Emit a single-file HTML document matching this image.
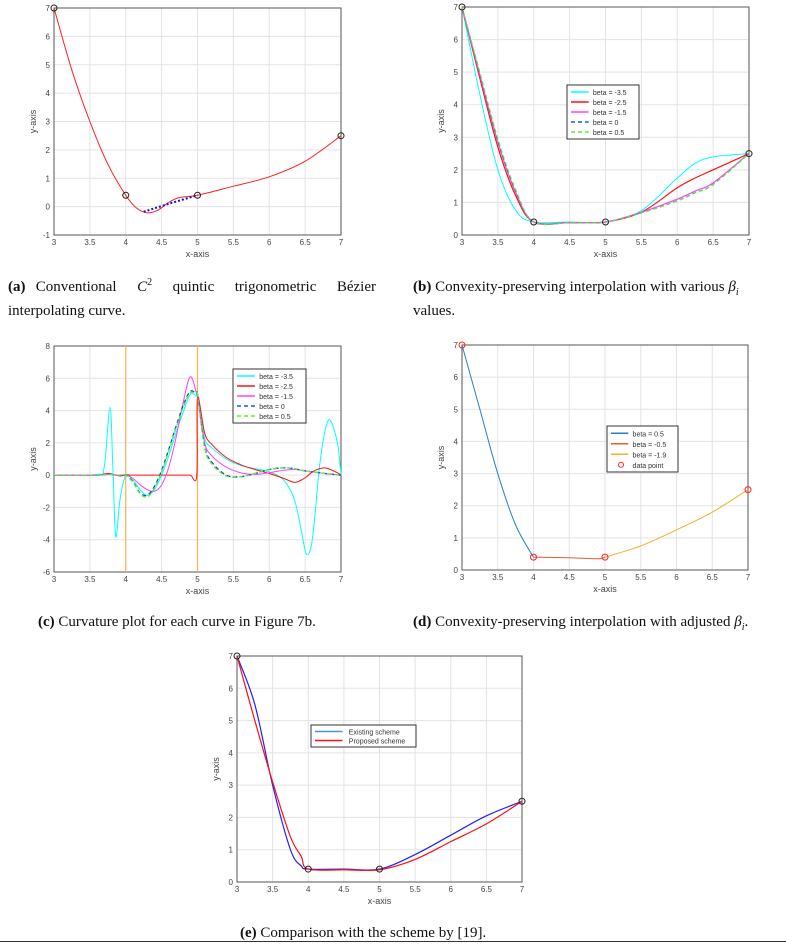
<!DOCTYPE html>
<html><head><meta charset="utf-8"><style>
body{margin:0;background:#fff;width:786px;height:945px;position:relative;overflow:hidden}
svg{position:absolute;left:0;top:0}
.cap{position:absolute;font-family:"Liberation Serif",serif;font-size:15px;color:#111;line-height:24px}
sub,sup{line-height:0}
</style></head><body>
<svg id="s" width="786" height="945"></svg>
<div class="cap" style="left:8px;top:275px;width:368px;text-align:justify;text-align-last:left"><b>(a)</b> Conventional &nbsp;<i>C</i><sup style="font-size:10px">2</sup> &nbsp;quintic &nbsp;trigonometric &nbsp;Bézier interpolating curve.</div>
<div class="cap" style="left:413px;top:275px;width:365px"><b>(b)</b> Convexity-preserving interpolation with various <i>β<sub style="font-size:10px">i</sub></i> values.</div>
<div class="cap" style="left:38px;top:610px"><b>(c)</b> Curvature plot for each curve in Figure 7b.</div>
<div class="cap" style="left:413px;top:610px"><b>(d)</b> Convexity-preserving interpolation with adjusted <i>β<sub style="font-size:10px">i</sub></i>.</div>
<div class="cap" style="left:240px;top:921px"><b>(e)</b> Comparison with the scheme by [19].</div>
<div style="position:absolute;left:0;top:941px;width:786px;height:1px;background:#333"></div>
<script>
// ---- data ----
const aX=[3,3.25,3.5,3.75,4,4.15,4.3,4.45,4.6,4.75,5,5.5,6,6.5,7];
const aY=[7,4.8,3.0,1.5,0.4,-0.05,-0.22,-0.12,0.15,0.32,0.4,0.72,1.05,1.6,2.5];
const aDotX=[4.25,4.6,5];
const aDotY=[-0.18,0.1,0.4];
const dataX=[3,4,5,7];
const dataY=[7,0.4,0.4,2.5];
const bX=[3,3.25,3.5,3.75,4,4.5,5,5.5,6,6.25,6.5,7];
const bCyan=[7,4.3,2.0,0.75,0.4,0.4,0.4,0.75,1.75,2.2,2.4,2.5];
const bRed=[7,4.8,2.7,1.2,0.4,0.38,0.4,0.7,1.45,1.75,2.0,2.5];
const bMag=[7,4.9,2.85,1.3,0.4,0.38,0.4,0.7,1.1,1.35,1.6,2.5];
const bBlue=[7,4.95,2.9,1.35,0.4,0.38,0.4,0.68,1.05,1.3,1.55,2.5];
const bGreen=[7,4.98,2.95,1.38,0.4,0.38,0.4,0.68,1.05,1.3,1.55,2.5];
const cX=[3,3.6,3.7,3.78,3.82,3.86,3.92,4,4.1,4.2,4.3,4.4,4.5,4.6,4.7,4.8,4.9,4.99,5,5.1,5.2,5.4,5.6,5.8,6,6.2,6.35,6.45,6.52,6.6,6.7,6.78,6.85,6.95,7];
const cCyan=[0,0.05,0.5,4.2,0.5,-3.8,-1.5,0,-0.3,-0.9,-1.25,-0.9,0,1.2,2.6,3.9,5.0,4.9,4.9,2.3,1.7,1.0,0.6,0.4,0.2,-0.3,-1.5,-3.5,-4.9,-4.0,0.5,2.8,3.4,2.0,0];
const cRed=[0,0,0.08,0.1,0.05,0,-0.05,0,0,0,0,0,0,0,0,0,0,0,4.8,2.6,1.9,1.1,0.65,0.35,0.1,-0.2,-0.45,-0.3,-0.1,0.2,0.4,0.45,0.35,0.15,0];
const cMag=[0,0,0.03,0.05,0.03,0,0,0,-0.2,-0.6,-0.9,-1.0,-0.6,0.5,2.3,4.5,6.1,5.0,4.9,2.0,1.2,0.5,0.15,0.05,0.15,0.3,0.35,0.3,0.25,0.2,0.15,0.1,0.05,0.02,0];
const cBlue=[0,0,0.03,0.05,0.03,0,0,0,-0.4,-1.1,-1.25,-0.7,0.3,1.6,3.0,4.3,5.2,5.0,5.0,1.8,0.8,0,-0.1,0.1,0.35,0.45,0.4,0.3,0.25,0.2,0.15,0.1,0.07,0.02,0];
const cGreen=[0,0,0.03,0.05,0.03,0,0,0,-0.45,-1.15,-1.35,-0.8,0.2,1.5,2.9,4.2,5.1,5.0,5.0,1.7,0.7,-0.05,-0.1,0.1,0.35,0.45,0.4,0.3,0.25,0.2,0.15,0.1,0.07,0.02,0];
const dBlueX=[3,3.25,3.5,3.75,4], dBlueY=[7,5.0,3.0,1.4,0.4];
const dOrX=[4,4.5,4.9,5], dOrY=[0.4,0.38,0.35,0.4];
const dYelX=[5,5.5,6,6.5,7], dYelY=[0.4,0.75,1.25,1.8,2.5];
const eX=[3,3.25,3.5,3.75,3.9,4,4.5,5,5.5,6,6.5,7];
const eExist=[7,5.5,3.0,1.0,0.5,0.4,0.4,0.4,0.85,1.45,2.05,2.5];
const eProp=[7,5.0,3.1,1.4,0.8,0.4,0.38,0.38,0.7,1.25,1.8,2.5];
const xTicks=[3,3.5,4,4.5,5,5.5,6,6.5,7];
const xTickLabels=["3","3.5","4","4.5","5","5.5","6","6.5","7"];
const yTicksA=[-1,0,1,2,3,4,5,6,7];
const yTicks07=[0,1,2,3,4,5,6,7];
const yTicksC=[-6,-4,-2,0,2,4,6,8];

const NS="http://www.w3.org/2000/svg", S=document.getElementById('s');
function el(t,a,p){const e=document.createElementNS(NS,t);for(const k in a)e.setAttribute(k,a[k]);(p||S).appendChild(e);return e;}
function axes(name,L,T,R,B,x0,x1,y0,y1,yt){
  const g=el('g',{});
  
  
  const sx=v=>L+(v-x0)/(x1-x0)*(R-L), sy=v=>B-(v-y0)/(y1-y0)*(B-T);
  xTicks.forEach((v,i)=>{el('line',{x1:sx(v),x2:sx(v),y1:T,y2:B,stroke:'#e3e3e3','stroke-width':1},g);
    const t=el('text',{x:sx(v),y:B+10,'text-anchor':'middle','font-size':8,fill:'#444','font-family':'Liberation Sans, sans-serif'},g);t.textContent=xTickLabels[i];
    });
  yt.forEach(v=>{el('line',{x1:L,x2:R,y1:sy(v),y2:sy(v),stroke:'#e3e3e3','stroke-width':1},g);
    const t=el('text',{x:L-4,y:sy(v)+3,'text-anchor':'end','font-size':8,fill:'#444','font-family':'Liberation Sans, sans-serif'},g);t.textContent=String(v);
    });
  el('rect',{x:L,y:T,width:R-L,height:B-T,fill:'none',stroke:'#555','stroke-width':1},g);
  const xl=el('text',{x:(L+R)/2,y:B+22,'text-anchor':'middle','font-size':9,fill:'#444','font-family':'Liberation Sans, sans-serif'},g);xl.textContent='x-axis';
  
  const yl=el('text',{x:0,y:0,transform:`translate(${L-18},${(T+B)/2}) rotate(-90)`,'text-anchor':'middle','font-size':9,fill:'#444','font-family':'Liberation Sans, sans-serif'},g);yl.textContent='y-axis';
  
  return {sx,sy,g};
}
function curve(ax,xs,ys,col,w,dash,name){
  const P=xs.map((x,i)=>[ax.sx(x),ax.sy(ys[i])]);
  let d='M'+P[0][0]+','+P[0][1];
  for(let i=0;i<P.length-1;i++){
    const p0=P[Math.max(0,i-1)],p1=P[i],p2=P[i+1],p3=P[Math.min(P.length-1,i+2)];
    const c1=[p1[0]+(p2[0]-p0[0])/6,p1[1]+(p2[1]-p0[1])/6],c2=[p2[0]-(p3[0]-p1[0])/6,p2[1]-(p3[1]-p1[1])/6];
    d+=`C${c1[0]},${c1[1]} ${c2[0]},${c2[1]} ${p2[0]},${p2[1]}`;
  }
  const p=el('path',{d,fill:'none',stroke:col,'stroke-width':w},ax.g);
  if(dash)p.setAttribute('stroke-dasharray',dash);
  
  
}
function pts(ax,col,name){dataX.forEach((x,i)=>{const c=el('circle',{cx:ax.sx(x),cy:ax.sy(dataY[i]),r:3,fill:'none',stroke:col,'stroke-width':1},ax.g);
  });}
function legend(name,x,y,w,items,fs,rowh){
  const g=el('g',{});
  
  
  el('rect',{x,y,width:w,height:items.length*rowh+4,fill:'#fff',stroke:'#333','stroke-width':1},g);
  items.forEach((it,i)=>{const yy=y+2+rowh*i+rowh/2;
    if(it[2]==='o'){el('circle',{cx:x+14,cy:yy,r:2.5,fill:'none',stroke:it[1]},g);}
    else{const l=el('line',{x1:x+4,x2:x+w*0.3,y1:yy,y2:yy,stroke:it[1],'stroke-width':1.5},g);if(it[2])l.setAttribute('stroke-dasharray',it[2]);}
    const t=el('text',{x:x+w*0.36,y:yy+3,'font-size':fs,fill:'#333','font-family':'Liberation Sans, sans-serif'},g);t.textContent=it[0];
    });
}
// (a)
const A=axes('chart-a',54,8,341,235,3,7,-1,7,yTicksA);
curve(A,aX,aY,'#ff2020',1,null,'curve-a');
curve(A,aDotX,aDotY,'#1010e0',2,'2,2','dotted-segment-a');
pts(A,'#222','data-point-a');
// (b)
const B=axes('chart-b',462,7,749,235,3,7,0,7,yTicks07);
curve(B,bX,bCyan,'#00ffff',1,null,'curve-beta-m3.5');
curve(B,bX,bRed,'#ff1010',1.2,null,'curve-beta-m2.5');
curve(B,bX,bMag,'#ff40ff',1.2,null,'curve-beta-m1.5');
curve(B,bX,bBlue,'#1060c0',1.2,'4,3','curve-beta-0');
curve(B,bX,bGreen,'#55ee33',1.2,'4,3','curve-beta-0.5');
pts(B,'#222','data-point-b');
const leg5=[['beta = -3.5','#00ffff'],['beta = -2.5','#ff1010'],['beta = -1.5','#ff40ff'],['beta = 0','#1060c0','4,3'],['beta = 0.5','#55ee33','4,3']];
legend('legend-b',567,85,72,leg5,7,10);
// (c)
const C=axes('chart-c',54,346,341,572,3,7,-6,8,yTicksC);
[4,5].forEach(v=>{const l=el('line',{x1:C.sx(v),x2:C.sx(v),y1:346,y2:572,stroke:'#ffb050','stroke-width':1.2},C.g);
  });
curve(C,cX,cCyan,'#00ffff',1,null,'curvature-beta-m3.5');
curve(C,cX,cRed,'#ff1010',1,null,'curvature-beta-m2.5');
curve(C,cX,cMag,'#ff40ff',1,null,'curvature-beta-m1.5');
curve(C,cX,cBlue,'#1040c0',1.3,'4,3','curvature-beta-0');
curve(C,cX,cGreen,'#55ee33',1.3,'4,3','curvature-beta-0.5');
legend('legend-c',233,369,73,leg5,7,10);
// (d)
const D=axes('chart-d',462,345,748,570,3,7,0,7,yTicks07);
curve(D,dBlueX,dBlueY,'#2a80c8',1,null,'curve-beta-0.5');
curve(D,dOrX,dOrY,'#e06030',1,null,'curve-beta-m0.5');
curve(D,dYelX,dYelY,'#f0b030',1,null,'curve-beta-m1.9');
pts(D,'#ff2020','data-point-d');
legend('legend-d',607,426,71,[['beta = 0.5','#2a80c8'],['beta = -0.5','#e06030'],['beta = -1.9','#f0b030'],['data point','#ff2020','o']],7,10.5);
// (e)
const E=axes('chart-e',237,656,522,882,3,7,0,7,yTicks07);
curve(E,eX,eExist,'#2020ff',1.2,null,'curve-existing');
curve(E,eX,eProp,'#ff1010',1.2,null,'curve-proposed');
pts(E,'#222','data-point-e');
legend('legend-e',311,725,105,[['Existing scheme','#5090e0'],['Proposed scheme','#ff1010']],7,9);
</script>
</body></html>
